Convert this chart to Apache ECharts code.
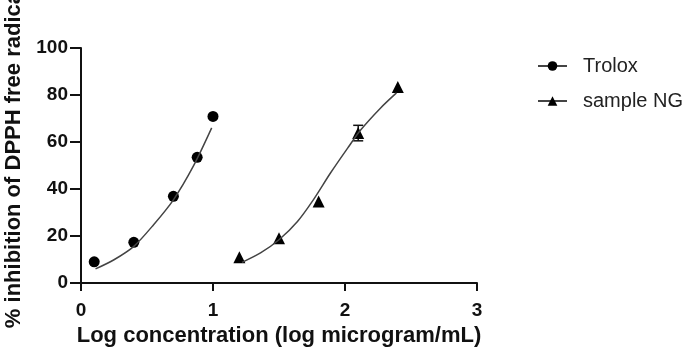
<!DOCTYPE html>
<html>
<head>
<meta charset="utf-8">
<script src="https://cdn.jsdelivr.net/npm/echarts@6/dist/echarts.min.js"></script>
<style>
  html, body { margin: 0; padding: 0; background: #fff; }
  #chart { width: 685px; height: 348px; }
</style>
</head>
<body>
<div id="chart"></div>
<script>
(function () {

  // measured points (log conc, % inhibition)
  var troloxX = [0.1, 0.4, 0.7, 0.88, 1.0];
  var troloxY = [9, 17.3, 36.9, 53.5, 70.9];
  // fitted curve
  var troloxFitX = [0.11, 0.25, 0.40, 0.55, 0.70, 0.85, 0.99];
  var troloxFitY = [6.0, 9.9, 15.6, 24.8, 35.4, 49.6, 66];

  var ngX = [1.2, 1.5, 1.8, 2.1, 2.4];
  var ngY = [11, 19, 34.7, 63.8, 83.4];
  var ngErr = [0, 0, 0, 3.3, 0];
  var ngFitX = [1.22, 1.36, 1.50, 1.64, 1.76, 1.89, 2.02, 2.12, 2.27, 2.39];
  var ngFitY = [8.8, 12.8, 18.4, 26.2, 35.4, 46.8, 57.4, 65.2, 74.5, 80.9];

  var xTicks = [0, 1, 2, 3];
  var yTicks = [0, 20, 40, 60, 80, 100];

  function pairs(xs, ys) {
    return xs.map(function (x, i) { return [x, ys[i]]; });
  }

  var errData = [];
  ngX.forEach(function (x, i) {
    if (ngErr[i] > 0) errData.push([x, ngY[i] - ngErr[i], ngY[i] + ngErr[i]]);
  });

  var chart = echarts.init(document.getElementById('chart'), null, { renderer: 'canvas' });

  var font = 'Liberation Sans, Arial';

  var option = {
    animation: false,
    backgroundColor: '#fff',
    grid: { left: 81, right: 208, top: 48, bottom: 65, containLabel: false, outerBoundsMode: 'none' },
    legend: {
      left: 532,
      top: 51,
      orient: 'vertical',
      itemWidth: 29,
      itemHeight: 12,
      itemGap: 15,
      data: ['Trolox', 'sample NG'],
      textStyle: { fontFamily: font, fontSize: 20, color: '#222', padding: [0, 0, 0, 11] }
    },
    xAxis: {
      type: 'value',
      min: 0,
      max: 3,
      interval: 1,
      name: 'Log concentration (log microgram/mL)',
      nameLocation: 'middle',
      nameGap: 42,
      nameTextStyle: { fontFamily: font, fontWeight: 'bold', fontSize: 22, color: '#111' },
      splitLine: { show: false },
      axisLine: { show: true, onZero: false, lineStyle: { color: '#111', width: 2 } },
      axisTick: { show: true, inside: false, length: 8, lineStyle: { color: '#111', width: 2 } },
      axisLabel: {
        margin: 18,
        fontFamily: font, fontWeight: 'bold', fontSize: 19, color: '#111',
        formatter: function (v) { return xTicks.indexOf(v) >= 0 ? String(v) : ''; }
      }
    },
    yAxis: {
      type: 'value',
      min: 0,
      max: 100,
      interval: 20,
      splitLine: { show: false },
      axisLine: { show: true, onZero: false, lineStyle: { color: '#111', width: 2 } },
      axisTick: { show: true, inside: false, length: 11, lineStyle: { color: '#111', width: 2 } },
      axisLabel: {
        margin: 13,
        fontFamily: font, fontWeight: 'bold', fontSize: 19, color: '#111',
        formatter: function (v) { return yTicks.indexOf(v) >= 0 ? String(v) : ''; }
      }
    },
    graphic: [{
      type: 'text',
      x: 14,
      y: 157,
      rotation: Math.PI / 2,
      style: {
        text: '% inhibition of DPPH free radical',
        fontFamily: font,
        fontWeight: 'bold',
        fontSize: 22,
        fill: '#111',
        align: 'center',
        verticalAlign: 'middle'
      }
    }],
    series: [
      {
        name: 'Trolox',
        type: 'line',
        smooth: 0.3,
        showSymbol: false,
        symbol: 'circle',
        symbolSize: 11,
        itemStyle: { color: '#000' },
        lineStyle: { color: '#444', width: 1.5 },
        data: pairs(troloxFitX, troloxFitY)
      },
      {
        name: 'Trolox',
        type: 'scatter',
        symbol: 'circle',
        symbolSize: 11,
        itemStyle: { color: '#000', opacity: 1 },
        data: pairs(troloxX, troloxY)
      },
      {
        name: 'sample NG',
        type: 'line',
        smooth: 0.3,
        showSymbol: false,
        symbol: 'triangle',
        symbolSize: 12,
        itemStyle: { color: '#000' },
        lineStyle: { color: '#444', width: 1.5 },
        data: pairs(ngFitX, ngFitY)
      },
      {
        name: 'sample NG',
        type: 'scatter',
        symbol: 'triangle',
        symbolSize: 12,
        itemStyle: { color: '#000', opacity: 1 },
        data: pairs(ngX, ngY)
      },
      {
        name: 'sample NG',
        type: 'custom',
        data: errData,
        renderItem: function (params, api) {
          var lo = api.coord([api.value(0), api.value(1)]);
          var hi = api.coord([api.value(0), api.value(2)]);
          var w = 5;
          var st = { stroke: '#111', lineWidth: 1.5 };
          return {
            type: 'group',
            children: [
              { type: 'line', shape: { x1: lo[0], y1: lo[1], x2: hi[0], y2: hi[1] }, style: st },
              { type: 'line', shape: { x1: hi[0] - w, y1: hi[1], x2: hi[0] + w, y2: hi[1] }, style: st },
              { type: 'line', shape: { x1: lo[0] - w, y1: lo[1], x2: lo[0] + w, y2: lo[1] }, style: st }
            ]
          };
        }
      }
    ]
  };

  chart.setOption(option);
}());
</script>
</body>
</html>
